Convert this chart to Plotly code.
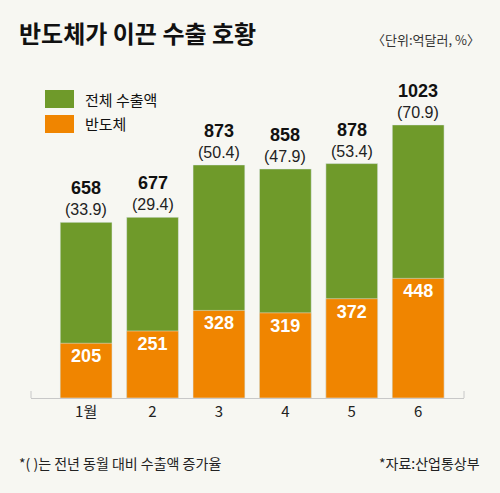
import plotly.graph_objects as go

months = ["1월", "2", "3", "4", "5", "6"]
total_exports = [658, 677, 873, 858, 878, 1023]
growth_rate = [33.9, 29.4, 50.4, 47.9, 53.4, 70.9]
semiconductor = [205, 251, 328, 319, 372, 448]

GREEN = "#6f9a2a"
ORANGE = "#f08500"
BG = "#f7f7f2"
KR = "Noto Sans CJK KR"
NUM = "Liberation Sans, Arial"

W, H = 500, 493
ML, MR, MT, MB = 31, 36, 60, 95
PW, PH = W - ML - MR, H - MT - MB


def px_x(x):
    return (x - ML) / PW


def px_y(y):
    return 1 - (y - MT) / PH


fig = go.Figure()
fig.add_bar(x=months, y=total_exports, marker_color=GREEN, width=0.78,
            name="전체 수출액", hoverinfo="skip")
fig.add_bar(x=months, y=semiconductor, marker_color=ORANGE, width=0.78,
            name="반도체", text=[str(v) for v in semiconductor],
            textposition="inside", insidetextanchor="end",
            textfont=dict(family=NUM, size=18, color="white", weight="bold"),
            hoverinfo="skip")

# total value + growth labels above each bar (x by category index)
for i, (t, g) in enumerate(zip(total_exports, growth_rate)):
    fig.add_annotation(x=i, y=t, showarrow=False, yanchor="bottom", yshift=2,
                       text=f"<b><span style='font-size:18px;color:#111'>{t}</span></b><br>({g})",
                       font=dict(family=NUM, size=16, color="#222"))


def page_text(x, y, text, size, anchor="left", color="#222"):
    fig.add_annotation(x=px_x(x), y=px_y(y), xref="paper", yref="paper",
                       text=text, showarrow=False, xanchor=anchor,
                       yanchor="middle", font=dict(family=KR, size=size, color=color))


page_text(17, 33, "<b>반도체가 이끈 수출 호황</b>", 24, color="#111")
page_text(482, 40, "〈단위:억달러, %〉", 13, anchor="right", color="#333")
page_text(83, 99, "전체 수출액", 15, color="#111")
page_text(83, 124, "반도체", 15, color="#111")
page_text(17, 463, "*( )는 전년 동월 대비 수출액 증가율", 14)
page_text(482, 463, "*자료:산업통상부", 14, anchor="right")

# legend swatches
for y0, y1, c in [(90, 108, GREEN), (115, 133, ORANGE)]:
    fig.add_shape(type="rect", xref="paper", yref="paper",
                  x0=px_x(45), x1=px_x(74), y0=px_y(y1), y1=px_y(y0),
                  fillcolor=c, line_width=0)

# small end ticks on the baseline
for xp in (0, 1):
    fig.add_shape(type="line", xref="paper", yref="paper", x0=xp, x1=xp,
                  y0=0, y1=7 / PH, line=dict(color="#c8c8c8", width=1))

fig.update_layout(
    width=W, height=H,
    margin=dict(l=ML, r=MR, t=MT, b=MB),
    paper_bgcolor=BG, plot_bgcolor=BG,
    barmode="overlay", showlegend=False,
    xaxis=dict(type="category", range=[-0.83, 5.69], showgrid=False,
               showline=True, linecolor="#c8c8c8", linewidth=1,
               ticks="", tickfont=dict(family=KR, size=15, color="#222")),
    yaxis=dict(range=[0, 1266], visible=False, showgrid=False, zeroline=False),
)

fig.write_html("out.html", config={"displayModeBar": False},
               post_script="document.body.style.margin='0';"
                           "document.body.style.background='" + BG + "';")
